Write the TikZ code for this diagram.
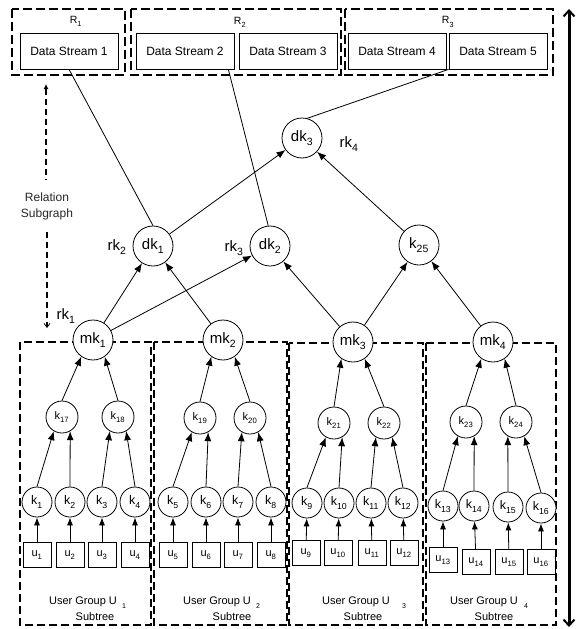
\documentclass[tikz,border=0pt]{standalone}
\usepackage{fontspec}
\setmainfont{Liberation Sans}
\usetikzlibrary{arrows.meta,calc}
\newcommand{\myfs}[1]{\fontsize{#1}{#1}\selectfont}
\newcommand{\lsub}[1]{\raisebox{-0.15em}{\textsubscript{#1}}}
\tikzset{
  circ/.style={circle, draw, fill=white, line width=0.8pt, inner sep=0pt},
  bigc/.style={circ, minimum size=40pt, font=\myfs{15}},
  midc/.style={circ, minimum size=32pt, font=\myfs{11}},
  lowc/.style={circ, minimum size=30pt, font=\myfs{12.5}},
  ubox/.style={draw, line width=0.8pt, fill=white, minimum width=28pt, minimum height=25pt, inner sep=0pt, font=\myfs{11}},
  dsbox/.style={draw, line width=0.7pt, minimum width=98pt, minimum height=36pt, inner sep=0pt, font=\myfs{12}},
  regionbox/.style={draw, line width=2.2pt, dash pattern=on 9pt off 4pt},
  grp/.style={draw, line width=1.8pt, dash pattern=on 8pt off 4pt},
  arr/.style={-{Latex[length=9pt,width=7pt]}, line width=0.8pt},
  sarr/.style={-{Latex[length=8pt,width=6pt]}, line width=0.8pt},
  ln/.style={line width=0.8pt},
  rklab/.style={font=\myfs{15}, inner sep=0pt},
  rlab/.style={font=\myfs{10.5}, inner sep=0pt},
  uglab/.style={font=\myfs{11}, inner sep=0pt},
  ugsub/.style={font=\myfs{7}, inner sep=0pt},
}
\begin{document}
\begin{tikzpicture}[x=1pt,y=-1pt]
\useasboundingbox (0,0) rectangle (576,629);

% region boxes
\draw[regionbox] (12,9) rectangle (125,75);
\draw[regionbox] (131,9) rectangle (341,75);
\draw[regionbox] (345,9) rectangle (553,75);
\node[rlab] (R1) at (76,21) {R\lsub{1}};
\node[rlab] (R2) at (240,22) {R\lsub{2}};
\node[rlab] (R3) at (448,22) {R\lsub{3}};

\node[dsbox] (DS1) at (69,51) {Data Stream 1};
\node[dsbox] (DS2) at (185,51) {Data Stream 2};
\node[dsbox] (DS3) at (288,51) {Data Stream 3};
\node[dsbox] (DS4) at (397,51) {Data Stream 4};
\node[dsbox] (DS5) at (498,51) {Data Stream 5};

% user group boxes
\draw[grp] (20,342) rectangle (151,625);
\draw[grp] (154,342) rectangle (287,625);
\draw[grp] (289,343) rectangle (423,625);
\draw[grp] (426,343) rectangle (556,625);

% big right arrow
\coordinate (BT) at (569,9);
\coordinate (BB) at (569,627);
\draw[line width=3pt, {Straight Barb[length=6pt,width=11pt,line width=2pt]}-{Straight Barb[length=6pt,width=11pt,line width=2pt]}] (BT) -- (BB);

% relation subgraph arrow
\node[font=\myfs{12}, align=center, inner sep=0pt, text=black!85] (rel) at (47,206) {Relation\\[4pt]Subgraph};
\coordinate (RT) at (46,84);
\coordinate (RTe) at (46,180);
\coordinate (RB) at (47,328);
\coordinate (RBs) at (47,232);
\draw[line width=1.4pt, dash pattern=on 6pt off 4pt, {Latex[length=5pt,width=5pt]}-] (RT) -- (RTe);
\draw[line width=1.4pt, dash pattern=on 6pt off 4pt, -{Straight Barb[length=4pt,width=6pt,line width=0.8pt]}] (RBs) -- (RB);

% upper nodes
\node[bigc] (dk3) at (302,138) {dk\lsub{3}};
\node[bigc] (dk1) at (153,246) {dk\lsub{1}};
\node[bigc] (dk2) at (270,246) {dk\lsub{2}};
\node[bigc] (k25) at (419,245) {k\lsub{25}};
\node[bigc] (mk1) at (93,340) {mk\lsub{1}};
\node[bigc] (mk2) at (223,340) {mk\lsub{2}};
\node[bigc] (mk3) at (353,342) {mk\lsub{3}};
\node[bigc] (mk4) at (493,342) {mk\lsub{4}};

\node[rklab] (rk1) at (66,316) {rk\lsub{1}};
\node[rklab] (rk2) at (117,247) {rk\lsub{2}};
\node[rklab] (rk3) at (234,248) {rk\lsub{3}};
\node[rklab] (rk4) at (349,144) {rk\lsub{4}};

% middle nodes
\node[midc] (k17) at (62,417) {k\lsub{17}};
\node[midc] (k18) at (118,417) {k\lsub{18}};
\node[midc] (k19) at (200,418) {k\lsub{19}};
\node[midc] (k20) at (250,418) {k\lsub{20}};
\node[midc] (k21) at (334,423) {k\lsub{21}};
\node[midc] (k22) at (384,423) {k\lsub{22}};
\node[midc] (k23) at (466,422) {k\lsub{23}};
\node[midc] (k24) at (516,422) {k\lsub{24}};

% leaf key nodes and user boxes
\foreach \i/\x/\y/\ux/\uy in {1/37/502/37/555, 2/70/502/70/555, 3/102/502/102/555, 4/135/502/135/555,
  5/173/502/173/555, 6/206/502/206/555, 7/238/502/238/555, 8/271/502/271/555,
  9/307/503/306/553, 10/339/503/338/553, 11/371/503/372/553, 12/403/503/404/553,
  13/443/506/443/560, 14/474/506/476/562, 15/508/507/509/562, 16/541/508/541/562} {
  \node[lowc] (k\i) at (\x,\y) {k\lsub{\i}};
  \node[ubox] (u\i) at (\ux,\uy) {u\lsub{\i}};
  \draw[sarr] (u\i) -- (k\i);
}

% leaf keys to middle keys
\foreach \a/\b/\p in {1/2/17, 3/4/18, 5/6/19, 7/8/20, 9/10/21, 11/12/22, 13/14/23, 15/16/24} {
  \draw[arr] (k\a.north) -- (k\p.-120);
  \draw[arr] (k\b.north) -- (k\p.-60);
}
% middle keys to mk
\foreach \a/\b/\p in {17/18/mk1, 19/20/mk2, 21/22/mk3, 23/24/mk4} {
  \draw[arr] (k\a.north) -- (\p.-125);
  \draw[arr] (k\b.north) -- (\p.-55);
}

% upper connectors
\draw[arr] (mk1) -- (dk1);
\draw[arr] (mk2) -- (dk1);
\draw[arr] (mk1) -- (dk2);
\draw[arr] (mk3) -- (dk2);
\draw[arr] (mk3) -- (k25);
\draw[arr] (mk4) -- (k25);
\draw[arr] (dk1) -- (dk3);
\draw[arr] (k25) -- (dk3);

\draw[ln] (DS1.south) -- (dk1.north);
\draw[ln] ($(DS2.south east)+(-6,0)$) -- (dk2.95);
\draw[ln] (DS5.south west) -- (dk3.75);

% group labels
\node[uglab] (ug1) at (83,602) {User Group U};
\node[ugsub] (ugs1) at (124,606) {1};
\node[uglab] (st1) at (95,617) {Subtree};
\node[uglab] (ug2) at (217,602) {User Group U};
\node[ugsub] (ugs2) at (258,606) {2};
\node[uglab] (st2) at (232,617) {Subtree};
\node[uglab] (ug3) at (356,602) {User Group U};
\node[ugsub] (ugs3) at (404,606) {3};
\node[uglab] (st3) at (363,617) {Subtree};
\node[uglab] (ug4) at (484,602) {User Group U};
\node[ugsub] (ugs4) at (526,606) {4};
\node[uglab] (st4) at (494,617) {Subtree};
\end{tikzpicture}
\end{document}
